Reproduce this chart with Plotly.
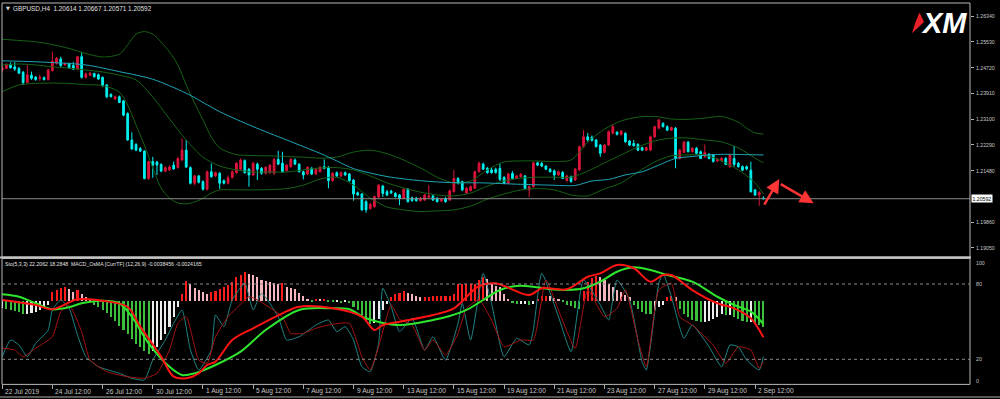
import plotly.graph_objects as go

W, H = 1000, 399
FONT = "Liberation Sans Narrow, Liberation Sans, Arial, sans-serif"

# ---------------- data: GBPUSD H4 candles (bar index 0 = 22 Jul 12:00) ----------------
opens = [
    1.2464, 1.2469, 1.2480, 1.2474, 1.2469, 1.2457, 1.2424, 1.2448, 1.2442, 1.2438,
    1.2440, 1.2434, 1.2462, 1.2485, 1.2499, 1.2480, 1.2484, 1.2478, 1.2467, 1.2506,
    1.2441, 1.2448, 1.2453, 1.2449, 1.2441, 1.2417, 1.2388, 1.2373, 1.2380, 1.2367,
    1.2327, 1.2244, 1.2230, 1.2217, 1.2209, 1.2123, 1.2176, 1.2175, 1.2167, 1.2146,
    1.2150, 1.2165, 1.2157, 1.2181, 1.2212, 1.2157, 1.2108, 1.2131, 1.2113, 1.2089,
    1.2144, 1.2131, 1.2139, 1.2116, 1.2108, 1.2126, 1.2141, 1.2152, 1.2179, 1.2152,
    1.2134, 1.2168, 1.2155, 1.2139, 1.2141, 1.2139, 1.2183, 1.2171, 1.2147, 1.2160,
    1.2181, 1.2168, 1.2144, 1.2137, 1.2155, 1.2137, 1.2144, 1.2160, 1.2158, 1.2116,
    1.2141, 1.2131, 1.2141, 1.2137, 1.2118, 1.2078, 1.2074, 1.2050, 1.2028, 1.2034,
    1.2064, 1.2099, 1.2081, 1.2083, 1.2076, 1.2071, 1.2060, 1.2089, 1.2062, 1.2060,
    1.2053, 1.2055, 1.2064, 1.2068, 1.2060, 1.2052, 1.2060, 1.2055, 1.2081, 1.2123,
    1.2113, 1.2077, 1.2085, 1.2092, 1.2144, 1.2168, 1.2155, 1.2150, 1.2152, 1.2155,
    1.2126, 1.2108, 1.2139, 1.2123, 1.2128, 1.2131, 1.2087, 1.2097, 1.2172, 1.2170,
    1.2162, 1.2152, 1.2147, 1.2134, 1.2142, 1.2116, 1.2128, 1.2118, 1.2150, 1.2223,
    1.2254, 1.2253, 1.2244, 1.2228, 1.2205, 1.2228, 1.2265, 1.2268, 1.2262, 1.2265,
    1.2241, 1.2233, 1.2230, 1.2220, 1.2212, 1.2212, 1.2254, 1.2281, 1.2296, 1.2286,
    1.2275, 1.2281, 1.2186, 1.2205, 1.2237, 1.2207, 1.2218, 1.2207, 1.2191, 1.2199,
    1.2197, 1.2178, 1.2179, 1.2186, 1.2160, 1.2186, 1.2171, 1.2160, 1.2160, 1.2149,
    1.2087, 1.2071, 1.20614]
highs = [
    1.2477, 1.2485, 1.2488, 1.2489, 1.2474, 1.2461, 1.2480, 1.2459, 1.2445, 1.2449,
    1.2444, 1.2467, 1.2522, 1.2505, 1.2506, 1.2488, 1.2488, 1.2490, 1.2509, 1.2520,
    1.2456, 1.2459, 1.2456, 1.2453, 1.2444, 1.2420, 1.2390, 1.2384, 1.2384, 1.2370,
    1.2331, 1.2268, 1.2234, 1.2222, 1.2212, 1.2179, 1.2191, 1.2178, 1.2171, 1.2161,
    1.2164, 1.2176, 1.2190, 1.2249, 1.2244, 1.2161, 1.2134, 1.2134, 1.2117, 1.2148,
    1.2170, 1.2145, 1.2143, 1.2120, 1.2132, 1.2148, 1.2175, 1.2186, 1.2183, 1.2156,
    1.2175, 1.2173, 1.2159, 1.2162, 1.2168, 1.2187, 1.2210, 1.2207, 1.2168, 1.2187,
    1.2186, 1.2171, 1.2148, 1.2162, 1.2159, 1.2156, 1.2162, 1.2183, 1.2162, 1.2143,
    1.2145, 1.2145, 1.2145, 1.2140, 1.2121, 1.2082, 1.2077, 1.2054, 1.2046, 1.2069,
    1.2105, 1.2102, 1.2087, 1.2087, 1.2080, 1.2074, 1.2093, 1.2093, 1.2066, 1.2065,
    1.2065, 1.2074, 1.2102, 1.2071, 1.2065, 1.2061, 1.2065, 1.2088, 1.2150, 1.2127,
    1.2116, 1.2096, 1.2101, 1.2148, 1.2176, 1.2173, 1.2159, 1.2156, 1.2157, 1.2171,
    1.2131, 1.2141, 1.2146, 1.2134, 1.2140, 1.2134, 1.2101, 1.2176, 1.2176, 1.2175,
    1.2165, 1.2156, 1.2151, 1.2148, 1.2146, 1.2134, 1.2132, 1.2156, 1.2226, 1.2275,
    1.2266, 1.2258, 1.2247, 1.2231, 1.2231, 1.2274, 1.2293, 1.2272, 1.2275, 1.2268,
    1.2244, 1.2244, 1.2234, 1.2223, 1.2223, 1.2258, 1.2289, 1.2310, 1.2300, 1.2290,
    1.2286, 1.2285, 1.2216, 1.2241, 1.2241, 1.2222, 1.2222, 1.2211, 1.2230, 1.2203,
    1.2200, 1.2187, 1.2190, 1.2190, 1.2200, 1.2225, 1.2175, 1.2164, 1.2164, 1.2176,
    1.2090, 1.2083, 1.20667]
lows = [
    1.2458, 1.2467, 1.2469, 1.2461, 1.2452, 1.2417, 1.2423, 1.2433, 1.2430, 1.2430,
    1.2431, 1.2431, 1.2459, 1.2481, 1.2474, 1.2477, 1.2469, 1.2464, 1.2464, 1.2437,
    1.2437, 1.2445, 1.2440, 1.2433, 1.2411, 1.2375, 1.2378, 1.2370, 1.2360, 1.2319,
    1.2241, 1.2212, 1.2209, 1.2206, 1.2120, 1.2118, 1.2125, 1.2134, 1.2143, 1.2143,
    1.2146, 1.2150, 1.2154, 1.2178, 1.2156, 1.2104, 1.2102, 1.2107, 1.2085, 1.2085,
    1.2126, 1.2127, 1.2090, 1.2104, 1.2104, 1.2123, 1.2138, 1.2148, 1.2138, 1.2097,
    1.2131, 1.2118, 1.2135, 1.2135, 1.2138, 1.2135, 1.2165, 1.2142, 1.2145, 1.2157,
    1.2165, 1.2142, 1.2120, 1.2134, 1.2134, 1.2134, 1.2142, 1.2152, 1.2092, 1.2113,
    1.2127, 1.2127, 1.2131, 1.2113, 1.2053, 1.2068, 1.2021, 1.2015, 1.2025, 1.2031,
    1.2061, 1.2065, 1.2068, 1.2074, 1.2063, 1.2039, 1.2058, 1.2047, 1.2050, 1.2050,
    1.2050, 1.2052, 1.2060, 1.2052, 1.2047, 1.2049, 1.2047, 1.2052, 1.2079, 1.2104,
    1.2083, 1.2075, 1.2082, 1.2090, 1.2142, 1.2150, 1.2138, 1.2138, 1.2138, 1.2115,
    1.2105, 1.2105, 1.2121, 1.2121, 1.2126, 1.2088, 1.2064, 1.2094, 1.2162, 1.2159,
    1.2149, 1.2142, 1.2118, 1.2131, 1.2121, 1.2113, 1.2110, 1.2115, 1.2146, 1.2220,
    1.2239, 1.2239, 1.2220, 1.2191, 1.2202, 1.2225, 1.2263, 1.2258, 1.2258, 1.2236,
    1.2225, 1.2223, 1.2209, 1.2209, 1.2209, 1.2209, 1.2251, 1.2278, 1.2283, 1.2272,
    1.2272, 1.2155, 1.2183, 1.2203, 1.2205, 1.2205, 1.2198, 1.2184, 1.2189, 1.2183,
    1.2173, 1.2175, 1.2176, 1.2165, 1.2157, 1.2160, 1.2157, 1.2146, 1.2149, 1.2079,
    1.2068, 1.2037, 1.20571]
closes = [
    1.2471, 1.2482, 1.2471, 1.2467, 1.2454, 1.2424, 1.2449, 1.2438, 1.2434, 1.2441,
    1.2434, 1.2464, 1.2492, 1.2501, 1.2478, 1.2483, 1.2471, 1.2467, 1.2506, 1.2441,
    1.2452, 1.2454, 1.2443, 1.2436, 1.2415, 1.2380, 1.2380, 1.2380, 1.2362, 1.2322,
    1.2244, 1.2216, 1.2212, 1.2209, 1.2123, 1.2176, 1.2165, 1.2165, 1.2146, 1.2157,
    1.2159, 1.2153, 1.2186, 1.2212, 1.2159, 1.2108, 1.2131, 1.2111, 1.2089, 1.2144,
    1.2128, 1.2141, 1.2108, 1.2108, 1.2125, 1.2144, 1.2171, 1.2181, 1.2141, 1.2134,
    1.2171, 1.2152, 1.2139, 1.2158, 1.2165, 1.2183, 1.2168, 1.2144, 1.2165, 1.2183,
    1.2168, 1.2144, 1.2134, 1.2158, 1.2137, 1.2152, 1.2158, 1.2155, 1.2116, 1.2139,
    1.2131, 1.2141, 1.2134, 1.2116, 1.2074, 1.2071, 1.2024, 1.2024, 1.2041, 1.2066,
    1.2102, 1.2076, 1.2071, 1.2078, 1.2066, 1.2060, 1.2089, 1.2050, 1.2053, 1.2053,
    1.2060, 1.2071, 1.2068, 1.2055, 1.2050, 1.2058, 1.2050, 1.2084, 1.2123, 1.2108,
    1.2087, 1.2092, 1.2097, 1.2144, 1.2171, 1.2152, 1.2141, 1.2141, 1.2142, 1.2120,
    1.2108, 1.2137, 1.2123, 1.2131, 1.2136, 1.2092, 1.2097, 1.2172, 1.2165, 1.2162,
    1.2152, 1.2144, 1.2134, 1.2144, 1.2123, 1.2131, 1.2113, 1.2152, 1.2223, 1.2254,
    1.2244, 1.2243, 1.2223, 1.2202, 1.2228, 1.2270, 1.2286, 1.2262, 1.2272, 1.2238,
    1.2228, 1.2226, 1.2212, 1.2212, 1.2220, 1.2254, 1.2286, 1.2307, 1.2286, 1.2275,
    1.2283, 1.2186, 1.2212, 1.2237, 1.2207, 1.2218, 1.2202, 1.2186, 1.2205, 1.2186,
    1.2176, 1.2184, 1.2186, 1.2167, 1.2197, 1.2167, 1.2160, 1.2149, 1.2153, 1.2081,
    1.2071, 1.2079, 1.20592]
bars = list(range(len(closes)))
last_price = 1.20592

# moving average (cyan) read at sample bars
ma_bars = [0, 8, 20, 28, 36, 44, 52, 60, 68, 76, 80, 84, 92, 100, 107, 115, 123, 131, 137, 141,
           145, 149, 153, 157, 161, 165, 169, 173, 177, 182]
ma_vals = [1.2493, 1.2490, 1.2480, 1.2459, 1.2435, 1.2391, 1.2333, 1.2286, 1.2244, 1.2202,
           1.2178, 1.2154, 1.2129, 1.2116, 1.2110, 1.2109, 1.2105, 1.2102, 1.2101, 1.2115,
           1.2120, 1.2134, 1.2144, 1.2165, 1.2186, 1.2192, 1.2197, 1.2199, 1.2198, 1.2197]

# Bollinger bands (dark green)
bb_up_bars = [0, 4, 8, 12, 16, 20, 24, 28, 30, 32, 34, 36, 38, 40, 42, 44, 46, 48, 50, 52,
              56, 60, 64, 68, 72, 76, 80, 84, 88, 92, 96, 100, 104, 108, 112, 116, 120, 124, 128, 132,
              136, 138, 140, 144, 148, 152, 156, 160, 164, 168, 172, 176, 178, 180, 182]
bb_up_vals = [1.2561, 1.2557, 1.2553, 1.2544, 1.2532, 1.2516, 1.2505, 1.2514, 1.2543, 1.2577,
              1.2585, 1.2577, 1.2552, 1.2521, 1.2480, 1.2417, 1.2360, 1.2307, 1.2253, 1.2219,
              1.2198, 1.2195, 1.2194, 1.2192, 1.2190, 1.2187, 1.2190, 1.2206, 1.2212, 1.2201,
              1.2181, 1.2156, 1.2127, 1.2109, 1.2115, 1.2150, 1.2175, 1.2178, 1.2178, 1.2176,
              1.2181, 1.2206, 1.2238, 1.2278, 1.2304, 1.2316, 1.2318, 1.2310, 1.2309, 1.2313,
              1.2318, 1.2300, 1.2281, 1.2266, 1.2263]
bb_mid_bars = [0, 4, 8, 12, 16, 20, 24, 28, 32, 36, 40, 44, 48, 52, 56, 60, 64, 68, 72, 76,
               80, 84, 88, 92, 96, 100, 104, 108, 112, 116, 120, 124, 128, 132, 136, 140, 144, 148, 152, 156,
               160, 164, 168, 172, 176, 180, 182]
bb_mid_vals = [1.2480, 1.2483, 1.2480, 1.2474, 1.2470, 1.2464, 1.2458, 1.2448, 1.2433, 1.2379,
               1.2310, 1.2244, 1.2190, 1.2162, 1.2150, 1.2143, 1.2143, 1.2143, 1.2150, 1.2156,
               1.2157, 1.2150, 1.2131, 1.2109, 1.2093, 1.2080, 1.2071, 1.2068, 1.2077, 1.2099,
               1.2115, 1.2124, 1.2127, 1.2127, 1.2127, 1.2146, 1.2172, 1.2197, 1.2222, 1.2241,
               1.2250, 1.2250, 1.2244, 1.2238, 1.2219, 1.2187, 1.2172]
bb_lo_bars = [0, 4, 8, 12, 16, 20, 24, 28, 30, 32, 34, 36, 38, 40, 42, 44, 46, 48, 50, 52,
              56, 60, 64, 68, 72, 76, 80, 84, 88, 90, 92, 96, 100, 104, 108, 112, 116, 120, 124, 128,
              132, 136, 138, 140, 144, 148, 152, 156, 160, 164, 168, 172, 176, 180, 182]
bb_lo_vals = [1.2396, 1.2417, 1.2422, 1.2423, 1.2422, 1.2418, 1.2415, 1.2395, 1.2354, 1.2291,
              1.2228, 1.2156, 1.2093, 1.2061, 1.2046, 1.2043, 1.2049, 1.2061, 1.2077, 1.2087,
              1.2087, 1.2087, 1.2088, 1.2091, 1.2102, 1.2121, 1.2127, 1.2102, 1.2061, 1.2046,
              1.2033, 1.2024, 1.2019, 1.2021, 1.2024, 1.2036, 1.2058, 1.2074, 1.2087, 1.2091,
              1.2087, 1.2071, 1.2068, 1.2068, 1.2090, 1.2109, 1.2143, 1.2175, 1.2194, 1.2197,
              1.2197, 1.2178, 1.2150, 1.2109, 1.2074]

# ---------------- sub window: MACD_OsMA (x 1e-4) and Stochastic(5,3,3) ----------------
osma_e4 = [
    -6.8, -7.7, -8.6, -9.8, -10.8, -12.9, -12.3, -11.7, -10.8, -8.6, -6.2, -4.0,
    7.7, 9.8, 11.4, 12.3, 10.5, 8.3, 9.8, 6.2, 3.1, 0.6,
    -3.7, -6.2, -9.2, -11.7, -15.4, -18.5, -23.1, -27.1, -30.8, -35.4, -40.6, -43.1, -46.2, -49.8,
    -46.2, -42.5, -36.9, -30.8, -24.0, -15.4, -6.2,
    6.2, 17.8, 15.4, 11.7, 9.8, 7.7, 6.2, 7.7, 9.2, 10.8, 12.9, 14.5, 16.9, 21.5, 23.1, 26.2,
    24.6, 23.1, 21.5, 19.1, 17.8, 16.9, 16.0, 15.4, 15.7, 12.9, 11.7, 10.8, 6.8, 3.7, 1.5,
    -0.6, 0.9, 0.6, 1.5, -1.5, -1.8, -1.8, -2.5, -1.8, -2.5, -6.2, -9.2, -13.8, -18.5, -21.5,
    -20.9, -16.9, -9.2, -3.1, 3.1, 6.2, 6.8,
    9.2, 6.8, 6.2, 3.7, 3.1, 3.1, 3.1, 3.7, 3.7, 3.7, 3.7, 3.7,
    6.2, 15.4, 15.4, 15.4, 15.4, 15.4, 18.5, 21.5, 20.0, 15.4, 13.8, 12.3, 6.2, 1.5,
    -2.5, -3.1, -3.1, -3.1, -3.7, -3.1, 1.5, 3.7, 4.6, 3.7, 2.5, 1.5, -1.5, -4.6, -5.5, -6.8, -7.7,
    9.2, 16.9, 20.9, 22.2, 21.5, 18.5, 15.4, 12.3, 9.8, 7.7, 5.5, 3.1,
    -4.6, -7.7, -10.8, -12.3, -12.9, -9.2, -6.2, -4.6, 3.1, 3.7, 3.1,
    -7.7, -12.3, -15.4, -17.8, -19.1, -20.0, -20.0, -19.1, -16.9, -15.4, -12.3, -13.8, -13.8,
    -15.4, -16.9, -18.5, -20.0, -20.0, -21.5, -22.2, -24.0]

macd_green_bars = [0, 4, 8, 12, 16, 19, 24, 28, 31, 35, 40, 43, 46, 51, 57, 63, 71, 79, 83, 87,
                   95, 103, 107, 111, 115, 119, 123, 127, 131, 135, 139, 143, 147, 151, 155, 159, 165, 171, 175, 179, 182]
macd_green_e4 = [5.3, 3.0, -3.0, -8.6, -6.7, -3.0, -0.6, -3.0, -15.4, -40.0,
                 -61.6, -69.2, -67.7, -60.0, -47.7, -27.7, -9.2, -7.7, -8.6, -16.9,
                 -23.1, -18.5, -14.8, -9.2, 0.0, 9.2, 12.9, 12.3, 9.9, 9.2,
                 10.8, 16.9, 26.1, 30.2, 27.7, 23.1, 16.9, 3.0, -4.6, -10.8, -22.2]
macd_red_bars = [0, 8, 12, 18, 24, 30, 33, 38, 41, 44, 47, 49, 51, 55, 60, 67, 71, 79, 86, 89,
                 91, 95, 103, 108, 114, 118, 126, 129, 135, 140, 143, 147, 151, 155, 158, 160, 165, 171, 175, 179, 182]
macd_red_e4 = [0.0, -4.6, -8.6, 0.6, -0.6, -6.5, -24.6, -52.3, -70.8, -72.3,
               -67.7, -60.0, -56.9, -36.9, -26.1, -12.3, -6.2, -7.7, -15.4, -27.7,
               -23.1, -20.0, -13.8, -7.7, 12.9, 15.4, 4.6, 10.8, 9.9, 21.5,
               24.6, 32.3, 29.3, 16.9, 23.1, 23.1, 9.2, -3.0, -7.7, -16.9, -34.4]

sto_main_bars = [0, 2, 4, 6, 8, 11, 12, 14, 16, 18, 20, 23, 28, 31, 34, 36, 39, 41, 43, 45,
                 47, 50, 51, 53, 55, 58, 60, 62, 66, 68, 71, 75, 78, 80, 82, 84, 86, 88, 90, 91,
                 93, 95, 98, 101, 103, 106, 109, 110, 112, 115, 117, 120, 123, 126, 127, 129, 133, 136, 139, 143,
                 145, 147, 150, 153, 154, 157, 158, 160, 163, 165, 169, 172, 174, 176, 178, 181, 182]
sto_main = [22.1, 35.4, 31.4, 22.1, 32.7, 43.3, 59.3, 67.3, 60.6, 39.4,
            22.1, 14.1, 8.8, 4.9, 3.5, 19.4, 35.4, 48.7, 59.3, 27.5,
            11.5, 27.5, 55.3, 46.0, 67.3, 80.6, 59.3, 72.6, 53.9, 35.4,
            38.0, 47.3, 51.3, 42.0, 46.0, 35.4, 14.1, 10.1, 32.7, 76.6,
            62.0, 42.0, 52.7, 27.4, 38.0, 19.4, 48.7, 64.6, 35.4, 88.5,
            64.6, 22.1, 36.7, 31.4, 43.3, 88.5, 53.9, 26.1, 83.2, 63.3,
            51.3, 83.2, 67.3, 18.1, 11.5, 80.6, 88.5, 69.9, 36.7, 47.3,
            30.0, 14.1, 31.4, 30.0, 19.4, 11.5, 22.2]
sto_sig_bars = [0, 3, 5, 8, 12, 14, 16, 19, 21, 25, 30, 34, 37, 40, 42, 44, 47, 49, 51, 54,
                56, 59, 61, 63, 67, 69, 72, 75, 78, 83, 86, 88, 90, 93, 95, 98, 101, 103, 106, 109,
                111, 114, 117, 120, 124, 127, 130, 133, 137, 140, 144, 147, 149, 152, 154, 157, 160, 162, 165, 170,
                173, 176, 179, 181, 182]
sto_sig = [28.8, 27.4, 22.1, 28.8, 38.0, 57.9, 63.3, 42.0, 19.4, 10.1,
           6.1, 4.9, 8.8, 27.4, 48.7, 53.9, 19.4, 16.8, 38.0, 53.9,
           60.6, 69.9, 67.3, 63.3, 53.9, 40.7, 40.7, 44.7, 47.3, 48.7,
           22.1, 11.5, 30.0, 63.3, 52.0, 47.3, 27.4, 35.4, 23.4, 40.7,
           60.6, 67.3, 51.3, 30.0, 35.4, 35.4, 83.2, 59.3, 28.8, 75.2,
           53.9, 60.6, 75.2, 35.4, 14.1, 75.2, 80.6, 53.9, 47.3, 31.4,
           16.8, 30.0, 27.4, 12.8, 18.3]

# axis labels
price_ticks = [1.26340, 1.25530, 1.24720, 1.23910, 1.23100, 1.22290, 1.21480, 1.19860, 1.19050]
sto_levels = [100, 80, 20, 0]
time_tick_bars = [0, 12, 24, 36, 48, 60, 72, 84, 96, 108, 120, 132, 144, 156, 168, 180]
time_tick_text = ["22 Jul 2019", "24 Jul 12:00", "26 Jul 12:00", "30 Jul 12:00", "1 Aug 12:00",
                  "5 Aug 12:00", "7 Aug 12:00", "9 Aug 12:00", "13 Aug 12:00", "15 Aug 12:00",
                  "19 Aug 12:00", "21 Aug 12:00", "23 Aug 12:00", "27 Aug 12:00", "29 Aug 12:00",
                  "2 Sep 12:00"]
# hand-drawn arrows on the chart: (bar, price) tail -> head
arrow_up = ((182.0, 1.2036), (185.8, 1.2121))
arrow_down = ((185.8, 1.2108), (194.0, 1.2045))

# ---------------- layout helpers (pixel -> paper) ----------------
def pxx(p):
    return p / W

def pxy(p):
    return 1 - p / H

X0, X1 = 2, 970            # plot area left/right in px
MAIN_T, MAIN_B = 3, 257    # main window
SUB_T, SUB_B = 258.5, 384.4

xr = [-0.05, 231.4]

fig = go.Figure()

fig.add_trace(go.Candlestick(
    x=bars, open=opens, high=highs, low=lows, close=closes,
    increasing=dict(line=dict(color="#dc143c", width=1), fillcolor="#dc143c"),
    decreasing=dict(line=dict(color="#00f0f0", width=1), fillcolor="#00f0f0"),
    whiskerwidth=0, hoverinfo="skip", xaxis="x", yaxis="y", showlegend=False))

for bx, bv in ((bb_up_bars, bb_up_vals), (bb_mid_bars, bb_mid_vals), (bb_lo_bars, bb_lo_vals)):
    fig.add_trace(go.Scatter(x=bx, y=bv, mode="lines",
                             line=dict(color="#176217", width=1, shape="spline", smoothing=0.8),
                             hoverinfo="skip", xaxis="x", yaxis="y", showlegend=False))
fig.add_trace(go.Scatter(x=ma_bars, y=ma_vals, mode="lines",
                         line=dict(color="#1ea6b6", width=1, shape="spline", smoothing=0.8),
                         hoverinfo="skip", xaxis="x", yaxis="y", showlegend=False))

# OsMA histogram colours from value direction
hist_colors = []
for k, v in enumerate(osma_e4):
    prev = osma_e4[k - 1] if k > 0 else v
    if v >= 0:
        hist_colors.append("#ff1c1c" if v >= prev else "#f5b5bf")
    else:
        hist_colors.append("#ececec" if v >= prev else "#3cbf3c")
fig.add_trace(go.Bar(x=bars, y=osma_e4, width=0.5, marker=dict(color=hist_colors, line=dict(width=0)),
                     hoverinfo="skip", xaxis="x2", yaxis="y2", showlegend=False))

fig.add_trace(go.Scatter(x=sto_main_bars, y=sto_main, mode="lines",
                         line=dict(color="#1f8585", width=1, shape="spline", smoothing=0.5),
                         hoverinfo="skip", xaxis="x2", yaxis="y3", showlegend=False))
fig.add_trace(go.Scatter(x=sto_sig_bars, y=sto_sig, mode="lines",
                         line=dict(color="#a51414", width=1, shape="spline", smoothing=0.5),
                         hoverinfo="skip", xaxis="x2", yaxis="y3", showlegend=False))

fig.add_trace(go.Scatter(x=macd_green_bars, y=macd_green_e4, mode="lines",
                         line=dict(color="#2ee62e", width=2, shape="spline", smoothing=0.9),
                         hoverinfo="skip", xaxis="x2", yaxis="y4", showlegend=False))
fig.add_trace(go.Scatter(x=macd_red_bars, y=macd_red_e4, mode="lines",
                         line=dict(color="#ff1414", width=2, shape="spline", smoothing=0.9),
                         hoverinfo="skip", xaxis="x2", yaxis="y4", showlegend=False))

# axis calibration (from the picture's price scale)
px_per_price = 25.75 / 0.0081
main_top = 1.26340 + (16 - MAIN_T) / px_per_price
main_bot = 1.26340 - (MAIN_B - 16) / px_per_price
osma_px = 1 / 0.923          # px per 1e-4
osma_zero_px = 300
osma_top = (osma_zero_px - SUB_T) / osma_px
osma_bot = (osma_zero_px - SUB_B) / osma_px
sto_px = 1.255
sto_top = (SUB_B - SUB_T) / sto_px

label_color = "#c8c8c8"
SCALE_FS = 5.2     # price / level labels
TIME_FS = 6.6      # time labels

fig.update_layout(
    width=W, height=H, margin=dict(l=0, r=0, t=0, b=0),
    paper_bgcolor="black", plot_bgcolor="black", hovermode=False, showlegend=False,
    bargap=0, boxgap=0.4,
    font=dict(family=FONT, color=label_color, size=7),
    xaxis=dict(domain=[pxx(X0), pxx(X1)], range=xr, anchor="y", showgrid=False, zeroline=False,
               showticklabels=False, ticks="", rangeslider=dict(visible=False), fixedrange=True),
    xaxis2=dict(domain=[pxx(X0), pxx(X1)], range=xr, anchor="y2", matches="x", showgrid=False,
                zeroline=False, showticklabels=False, ticks="outside", ticklen=4, tickwidth=1,
                tickcolor="#a8a8a8", tickmode="array", tickvals=time_tick_bars),
    yaxis=dict(domain=[pxy(MAIN_B), pxy(MAIN_T)], range=[main_bot, main_top], anchor="x",
               side="right", showgrid=False, zeroline=False, tickmode="array",
               tickvals=price_ticks, showticklabels=False,
               ticks="outside", ticklen=3, tickwidth=1, tickcolor="#b0b0b0"),
    yaxis2=dict(domain=[pxy(SUB_B), pxy(SUB_T)], range=[osma_bot, osma_top], anchor="x2",
                visible=False),
    yaxis3=dict(overlaying="y2", range=[0, sto_top], anchor="x2", side="right", showgrid=False,
                zeroline=False, showticklabels=False, ticks=""),
    yaxis4=dict(overlaying="y2", range=[osma_bot, osma_top], anchor="x2", visible=False),
)

shapes = [
    # current price line
    dict(type="line", xref="paper", yref="y", x0=pxx(X0), x1=pxx(X1), y0=last_price, y1=last_price,
         line=dict(color="#8a8a8a", width=1)),
    # main frame
    dict(type="rect", xref="paper", yref="paper", x0=pxx(X0), x1=pxx(X1), y0=pxy(MAIN_B), y1=pxy(MAIN_T),
         line=dict(color="#b8b8b8", width=1)),
    # window separator
    dict(type="line", xref="paper", yref="paper", x0=pxx(0), x1=pxx(X1 + 1), y0=pxy(257.6), y1=pxy(257.6),
         line=dict(color="#c4c4c4", width=2)),
    # sub frame
    dict(type="rect", xref="paper", yref="paper", x0=pxx(X0), x1=pxx(X1), y0=pxy(SUB_B), y1=pxy(SUB_T),
         line=dict(color="#b8b8b8", width=1)),
    # bottom window edge
    dict(type="line", xref="paper", yref="paper", x0=0, x1=1, y0=pxy(397), y1=pxy(397),
         line=dict(color="#b0b0b0", width=1)),
    # stochastic 80 / 20 levels
    dict(type="line", xref="paper", yref="y3", x0=pxx(X0), x1=pxx(X1), y0=80, y1=80,
         line=dict(color="#8c8c8c", width=1, dash="dot")),
    dict(type="line", xref="paper", yref="y3", x0=pxx(X0), x1=pxx(X1), y0=20, y1=20,
         line=dict(color="#8c8c8c", width=1, dash="dot")),
    # XM logo red wedge
    dict(type="path", xref="paper", yref="paper",
         path="M %f %f L %f %f L %f %f L %f %f Z" % (pxx(919.5), pxy(12.5), pxx(924), pxy(22),
                                                    pxx(912), pxy(33.3), pxx(915.5), pxy(22)),
         fillcolor="#e8202a", line=dict(width=0)),
]
fig.update_layout(shapes=shapes)

ann = []
# header texts
ann.append(dict(xref="paper", yref="paper", x=pxx(3.5), y=pxy(8.3), xanchor="left", yanchor="middle",
                text="▼", showarrow=False, font=dict(size=5, color="#e0e0e0", family="DejaVu Sans")))
ann.append(dict(xref="paper", yref="paper", x=pxx(10.5), y=pxy(8.3), xanchor="left", yanchor="middle",
                text="GBPUSD,H4  1.20614 1.20667 1.20571 1.20592", showarrow=False,
                font=dict(size=6.4, color="#e0e0e0", family=FONT)))
ann.append(dict(xref="paper", yref="paper", x=pxx(3), y=pxy(264.3), xanchor="left", yanchor="middle",
                text="Sto(5,3,3) 22.2062 18.2848  MACD_OsMA [CurrTF] (12,26,9) -0.0038456 -0.0024165",
                showarrow=False, font=dict(size=5.2, color="#e0e0e0", family=FONT)))
# XM logo text
ann.append(dict(xref="paper", yref="paper", x=pxx(944), y=pxy(23), xanchor="center", yanchor="middle",
                text="<b><i>XM</i></b>", showarrow=False,
                font=dict(size=29, color="#ffffff", family="Liberation Sans, Arial, sans-serif")))
# price scale labels
for p in price_ticks:
    ann.append(dict(xref="paper", yref="y", x=pxx(974), y=p, xanchor="left", yanchor="middle",
                    text="%.5f" % p, showarrow=False, font=dict(size=SCALE_FS, color=label_color, family=FONT)))
# current price label
ann.append(dict(xref="paper", yref="y", x=pxx(971), y=last_price, xanchor="left", yanchor="middle",
                text="%.5f" % last_price, showarrow=False, bgcolor="#ffffff", borderpad=0.5,
                font=dict(size=SCALE_FS, color="#000000", family=FONT)))
# stochastic scale labels (MT4 keeps the 100 / 0 labels inside the window)
sto_label_shift = {100: -4, 80: 0, 20: 0, 0: 3.5}
for lv in sto_levels:
    ann.append(dict(xref="paper", yref="y3", x=pxx(974), y=lv, xanchor="left", yanchor="middle",
                    yshift=sto_label_shift[lv], text=str(lv), showarrow=False,
                    font=dict(size=SCALE_FS, color=label_color, family=FONT)))
# time labels
for b, t in zip(time_tick_bars, time_tick_text):
    ann.append(dict(xref="x2", yref="paper", x=b, y=pxy(391), xanchor="left", yanchor="middle",
                    xshift=1, text=t, showarrow=False, font=dict(size=TIME_FS, color=label_color, family=FONT)))
# red arrows
for (tx, ty), (hx, hy) in (arrow_up, arrow_down):
    ann.append(dict(xref="x", yref="y", axref="x", ayref="y", x=hx, y=hy, ax=tx, ay=ty,
                    showarrow=True, arrowhead=2, arrowsize=1.1, arrowwidth=2.5, arrowcolor="#ff3434",
                    text=""))
fig.update_layout(annotations=ann)

fig.write_html("out.html", config={"displayModeBar": False},
               post_script="document.body.style.margin='0px';document.body.style.background='black';")
